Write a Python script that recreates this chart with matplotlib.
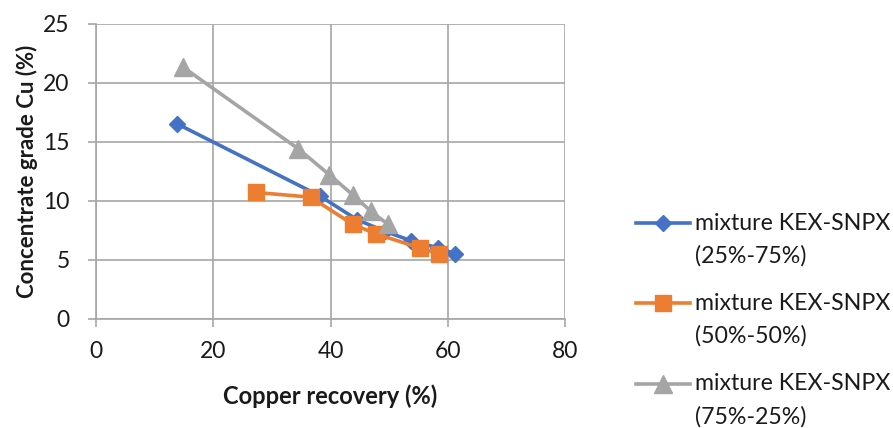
import matplotlib
matplotlib.use("Agg")
import matplotlib.pyplot as plt
from matplotlib.lines import Line2D

plt.rcParams['font.family'] = ['Lato', 'DejaVu Sans']

# Copper recovery (%) and concentrate grade Cu (%) for each collector mixture
rec_25_75 = [13.9, 38.2, 44.5, 49.3, 53.8, 58.4, 61.3]
grade_25_75 = [16.5, 10.4, 8.4, 7.4, 6.6, 6.0, 5.5]

rec_50_50 = [27.3, 36.6, 43.8, 47.7, 55.2, 58.5]
grade_50_50 = [10.7, 10.3, 8.0, 7.2, 6.0, 5.5]

rec_75_25 = [14.9, 34.5, 39.8, 43.8, 46.9, 49.8]
grade_75_25 = [21.3, 14.4, 12.2, 10.5, 9.1, 8.0]

labels = [("mixture KEX-SNPX", "(25%-75%)"),
          ("mixture KEX-SNPX", "(50%-50%)"),
          ("mixture KEX-SNPX", "(75%-25%)")]
x_ticks = [0, 20, 40, 60, 80]
y_ticks = [0, 5, 10, 15, 20, 25]

W, H = 893, 428
fig = plt.figure(figsize=(W / 100, H / 100), dpi=100)
ax = fig.add_axes([96 / W, 1 - 318.7 / H, (565 - 96) / W, (318.7 - 23.7) / H])

grid_c = '#a6a6a6'
text_c = '#1a1a1a'
styles = [
    dict(color='#4472c4', marker='D', markersize=8.5),
    dict(color='#ed7d31', marker='s', markersize=12),
    dict(color='#a5a5a5', marker='^', markersize=12.5),
]
series = [(rec_25_75, grade_25_75), (rec_50_50, grade_50_50), (rec_75_25, grade_75_25)]
for (xs, ys), st in zip(series, styles):
    ax.plot(xs, ys, color=st['color'], lw=2.6, marker=st['marker'],
            markersize=st['markersize'], markerfacecolor=st['color'],
            markeredgecolor=st['color'], zorder=3, clip_on=False)

ax.set_xlim(0, 80)
ax.set_ylim(0, 25)
ax.set_xticks(x_ticks)
ax.set_yticks(y_ticks)
ax.grid(True, color=grid_c, lw=1.2)
ax.set_axisbelow(True)
for s in ax.spines.values():
    s.set_visible(False)
for side in ('left', 'bottom'):
    ax.spines[side].set_visible(True)
    ax.spines[side].set_color(grid_c)
    ax.spines[side].set_linewidth(1.2)
ax.tick_params(axis='both', colors=grid_c, width=1.2, length=6, labelcolor=text_c,
               labelsize=16.5)
ax.tick_params(axis='x', pad=10)
ax.tick_params(axis='y', pad=13)

ax.set_xlabel('Copper recovery (%)', fontsize=17, fontweight='bold', labelpad=16,
              color=text_c)
ax.set_ylabel('Concentrate grade Cu (%)', fontsize=16, fontweight='bold', labelpad=4,
              color=text_c)

# legend drawn in figure pixel coordinates
leg_y = [223, 303, 384]
for (l1, l2), st, y in zip(labels, styles, leg_y):
    yf = 1 - y / H
    fig.add_artist(Line2D([636 / W, 690 / W], [yf, yf], color=st['color'], lw=2.6,
                          transform=fig.transFigure))
    fig.add_artist(Line2D([663 / W], [yf], color=st['color'], marker=st['marker'],
                          markersize=st['markersize'], lw=0, transform=fig.transFigure))
    fig.text(695 / W, yf, l1, fontsize=16.7, va='center', ha='left', color=text_c)
    fig.text(695 / W, 1 - (y + 33) / H, l2, fontsize=16.7, va='center', ha='left',
             color=text_c)

fig.savefig('out.png', dpi=100)
